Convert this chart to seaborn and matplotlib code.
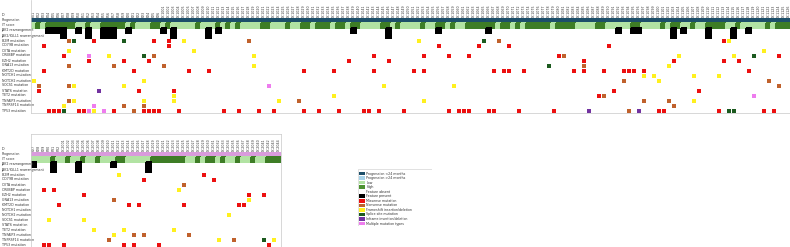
import numpy as np
import pandas as pd
import matplotlib
matplotlib.use("Agg")
import matplotlib.pyplot as plt
import seaborn as sns
from matplotlib.colors import ListedColormap
from matplotlib.patches import Rectangle
from matplotlib.lines import Line2D
from matplotlib.transforms import blended_transform_factory

# rows of the oncoprint
row_labels = ["Progression", "IT score", "JAK2 rearrangement", "JAK2/IGLL1 rearrangement",
              "B2M mutation", "CD79B mutation", "CIITA mutation", "CREBBP mutation",
              "EZH2 mutation", "GNA13 mutation", "KMT2D mutation", "NOTCH1 mutation",
              "NOTCH2 mutation", "SOCS1 mutation", "STAT6 mutation", "TET2 mutation",
              "TNFAIP3 mutation", "TNFRSF14 mutation", "TP53 mutation"]
genes = row_labels[4:]

# sample ids (column labels)
top_ids = [f"P{n:02d}" for n in range(1, 27)] + [f"LY-{n:04d}" for n in range(1001, 1127)]
bot_ids = [f"P{n:02d}" for n in range(27, 33)] + [f"LY-{n:04d}" for n in range(2001, 2045)]

# IT score: columns with high score (others low)
top_it_high = [1, 3, 4, 5, 6, 7, 8, 11, 14, 15, 16, 17, 18, 20, 24, 25, 27,
               33, 37, 39, 41, 46, 47, 51, 54, 55, 57, 58, 59, 61, 62, 64, 65, 70, 71,
               73, 78, 81, 82, 84, 87, 88, 89, 90, 91, 92, 94, 95, 97, 99, 100, 101, 102, 103,
               105, 106, 107, 108, 113, 114, 120, 121, 126, 128, 129, 132, 135, 136, 137, 138,
               141, 147, 149, 150, 151]
bot_it_high = [4, 7, 10, 13, 17, 18, 24, 25, 26, 27, 28, 29, 30, 33, 35, 36, 38, 41, 44, 47, 48, 49]

# rearrangements (feature present)
top_rearr1 = [3, 4, 5, 6, 9, 11, 14, 15, 16, 19, 26, 28, 35, 37, 64, 71, 81, 91, 117, 120, 121,
              128, 130, 135, 140, 143]
top_rearr2 = [6, 11, 14, 15, 16, 28, 35, 71, 128, 135, 140]
bot_rearr1 = [0, 4, 9, 16, 23]
bot_rearr2 = [4, 9, 23]

# mutations: (column, type)  M missense, N nonsense, F frameshift, S splice, I inframe, X multiple
top_mut = {
    "B2M mutation": [(7, "N"), (8, "S"), (12, "M"), (18, "S"), (24, "M"), (27, "M"), (30, "F"),
                     (43, "N"), (77, "F"), (90, "S"), (93, "N"), (138, "M"), (139, "F")],
    "CD79B mutation": [(2, "M"), (27, "M"), (81, "M"), (89, "M"), (95, "M"), (115, "M")],
    "CIITA mutation": [(7, "F"), (32, "F"), (146, "F")],
    "CREBBP mutation": [(6, "M"), (11, "X"), (15, "F"), (22, "S"), (24, "N"), (44, "F"), (68, "M"),
                        (78, "M"), (83, "M"), (87, "M"), (105, "M"), (106, "N"), (129, "F"),
                        (140, "F"), (144, "S"), (149, "M")],
    "EZH2 mutation": [(11, "M"), (18, "M"), (23, "M"), (63, "M"), (71, "M"), (110, "M"),
                      (128, "M"), (138, "M"), (141, "M")],
    "GNA13 mutation": [(7, "N"), (16, "N"), (26, "N"), (44, "F"), (103, "S"), (110, "N"), (127, "F")],
    "KMT2D mutation": [(2, "M"), (20, "M"), (31, "M"), (35, "M"), (54, "M"), (60, "M"), (68, "M"),
                       (76, "M"), (78, "M"), (92, "M"), (94, "M"), (95, "M"), (98, "M"), (108, "M"),
                       (110, "M"), (114, "M"), (118, "M"), (119, "M"), (120, "M"), (122, "M"),
                       (143, "M")],
    "NOTCH1 mutation": [(122, "F"), (124, "F"), (132, "F"), (137, "F")],
    "NOTCH2 mutation": [(0, "F"), (22, "F"), (118, "N"), (125, "F"), (147, "N")],
    "SOCS1 mutation": [(1, "N"), (7, "N"), (8, "F"), (18, "F"), (47, "X"), (70, "F"), (84, "F"),
                       (149, "N")],
    "STAT6 mutation": [(1, "M"), (13, "I"), (21, "M"), (28, "M"), (116, "M"), (133, "M")],
    "TET2 mutation": [(28, "F"), (60, "F"), (113, "M"), (114, "N"), (144, "X")],
    "TNFAIP3 mutation": [(7, "N"), (8, "F"), (22, "F"), (28, "F"), (49, "F"), (53, "N"), (78, "F"),
                         (122, "N"), (127, "N"), (132, "F")],
    "TNFRSF14 mutation": [(6, "F"), (12, "X"), (18, "N"), (22, "N"), (128, "N")],
    "TP53 mutation": [(3, "M"), (4, "M"), (5, "M"), (6, "S"), (9, "M"), (10, "M"), (11, "X"),
                      (12, "F"), (14, "X"), (16, "M"), (20, "N"), (22, "M"), (23, "M"), (24, "M"),
                      (25, "M"), (29, "M"), (38, "M"), (41, "M"), (45, "M"), (48, "M"), (54, "M"),
                      (57, "M"), (61, "M"), (66, "M"), (67, "M"), (69, "M"), (74, "M"), (83, "M"),
                      (85, "M"), (86, "M"), (87, "M"), (91, "M"), (92, "M"), (97, "M"), (104, "M"),
                      (111, "I"), (119, "N"), (121, "I"), (125, "M"), (126, "M"), (137, "M"),
                      (139, "S"), (140, "S"), (146, "M"), (148, "M")],
}
bot_mut = {
    "B2M mutation": [(17, "F"), (34, "M")],
    "CD79B mutation": [(22, "M"), (36, "M")],
    "CIITA mutation": [(30, "N")],
    "CREBBP mutation": [(2, "M"), (4, "M"), (29, "F")],
    "EZH2 mutation": [(10, "M"), (43, "M"), (46, "M")],
    "GNA13 mutation": [(16, "N"), (43, "F")],
    "KMT2D mutation": [(5, "M"), (19, "M"), (21, "M"), (30, "M"), (41, "M"), (42, "M")],
    "NOTCH2 mutation": [(39, "F")],
    "SOCS1 mutation": [(3, "F"), (10, "F")],
    "TET2 mutation": [(12, "F"), (18, "F"), (28, "F")],
    "TNFAIP3 mutation": [(16, "F"), (20, "N"), (22, "N"), (31, "N")],
    "TNFRSF14 mutation": [(15, "N"), (37, "F"), (40, "N"), (46, "S"), (48, "F")],
    "TP53 mutation": [(2, "M"), (3, "M"), (6, "M"), (18, "M"), (20, "M"), (25, "M"), (47, "M")],
}

legend_labels = ["Progression <24 months", "Progression >24 months", "Low", "High",
                 "Feature absent", "Feature present", "Missense mutation", "Nonsense mutation",
                 "Frameshift insertion/deletion", "Splice site mutation",
                 "Inframe insertion/deletion", "Multiple mutation types"]

colors = ["#ffffff", "#1d4f6a", "#d99bdc", "#b2e3a3", "#3e7d26", "#000000",
          "#ec1010", "#c0612c", "#fff01e", "#1c5a1f", "#7232a0", "#ee7cee"]
legend_colors = ["#1d4f6a", "#a7d3ea", "#b2e3a3", "#4d9230", "#ffffff", "#000000",
                 "#ec1010", "#c0612c", "#fff01e", "#1c5a1f", "#7232a0", "#ee7cee"]
mut_code = {"M": 6, "N": 7, "F": 8, "S": 9, "I": 10, "X": 11}
cmap = ListedColormap(colors)


def build(ids, prog_code, it_high, r1, r2, muts):
    mat = np.zeros((len(row_labels), len(ids)), dtype=int)
    mat[0, :] = prog_code
    mat[1, :] = 3
    mat[1, it_high] = 4
    mat[2, r1] = 5
    mat[3, r2] = 5
    for i, g in enumerate(genes):
        for c, t in muts.get(g, []):
            mat[4 + i, c] = mut_code[t]
    return pd.DataFrame(mat, index=row_labels, columns=ids)


W, H = 790, 247
fig = plt.figure(figsize=(W / 100, H / 100), dpi=100)
fig.patch.set_facecolor("white")
lab_kw = dict(fontsize=2.3, color="#333333")


def draw_panel(rect, df):
    ax = fig.add_axes(rect)
    n_rows, n_cols = df.shape
    empty = (df.values == 0)
    # mutation cells: small squares separated by white gaps
    body = empty.copy()
    body[:4, :] = True
    sns.heatmap(df, mask=body, cmap=cmap, vmin=-0.5, vmax=11.5, cbar=False, ax=ax,
                linewidths=0.5, linecolor="white", xticklabels=False, yticklabels=False)
    # header rows drawn on top, without gaps between cells
    head = empty.copy()
    head[4:, :] = True
    sns.heatmap(df, mask=head, cmap=cmap, vmin=-0.5, vmax=11.5, cbar=False, ax=ax,
                linewidths=0.3, linecolor="face", xticklabels=False, yticklabels=False)
    ax.set_xticks(np.arange(n_cols) + 0.5)
    ax.set_xticklabels(df.columns, rotation=90, **lab_kw)
    ax.xaxis.tick_top()
    ax.tick_params(axis="x", length=0, pad=0.6)
    ax.set_yticks([])
    ax.set_xlabel("")
    ax.set_ylabel("")
    tr = blended_transform_factory(fig.transFigure, ax.transData)
    for i, lab in enumerate(df.index):
        ax.text(1.5 / W, i + 0.5, lab, transform=tr, ha="left", va="center", clip_on=False, **lab_kw)
    ax.text(1.5 / W, -0.6, "ID", transform=tr, ha="left", va="center", clip_on=False, **lab_kw)
    return ax


def fx(px):
    return px / W


def fy(py):
    return 1 - py / H


top_df = build(top_ids, 1, top_it_high, top_rearr1, top_rearr2, top_mut)
bot_df = build(bot_ids, 2, bot_it_high, bot_rearr1, bot_rearr2, bot_mut)

draw_panel([fx(31), fy(113), fx(760), 95 / H], top_df)
draw_panel([fx(31), fy(247), fx(250), 95 / H], bot_df)

grey = "#c8c8c8"
for xs, ys in [([31, 31], [0, 113]), ([31, 790], [113, 113]),
               ([31, 31], [134, 247]), ([281, 281], [134, 247]), ([31, 281], [134, 134])]:
    fig.add_artist(Line2D([fx(x) for x in xs], [fy(y) for y in ys], color=grey, lw=0.5))

# legend
ax_leg = fig.add_axes([fx(358), fy(226), fx(74), 57 / H])
ax_leg.set_xlim(0, 74)
ax_leg.set_ylim(57, 0)
ax_leg.axis("off")
ax_leg.add_patch(Rectangle((0, 0), 74, 57, fill=False, ec="#d4d4d4", lw=0.5))
for i, (lab, col) in enumerate(zip(legend_labels, legend_colors)):
    y = 2.7 + i * 4.55
    ax_leg.add_patch(Rectangle((1.2, y), 6, 3.6, fc=col, ec="none"))
    ax_leg.text(8.5, y + 1.8, lab, ha="left", va="center", **lab_kw)

fig.savefig("out.png", dpi=100, facecolor="white")
